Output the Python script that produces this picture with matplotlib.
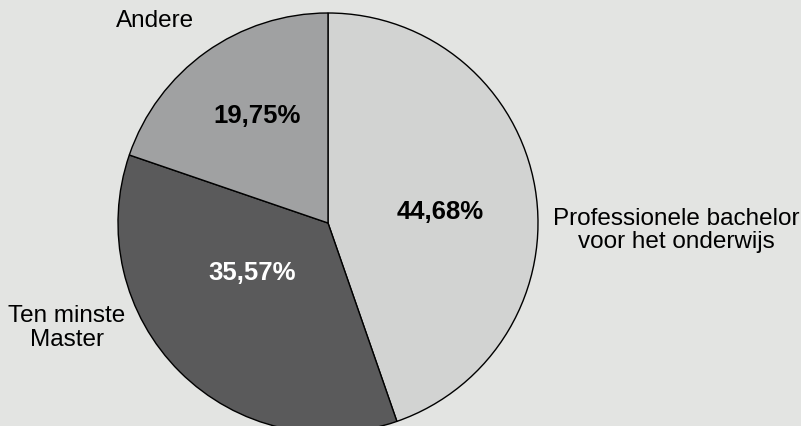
import matplotlib
matplotlib.use("Agg")
import matplotlib.pyplot as plt

categories = ["Professionele bachelor\nvoor het onderwijs", "Ten minste\nMaster", "Andere"]
values = [44.68, 35.57, 19.75]
colors = ["#d2d3d2", "#5a5a5b", "#a0a1a2"]
pct_colors = ["#000000", "#ffffff", "#000000"]

plt.rcParams['font.family'] = ['Liberation Sans', 'DejaVu Sans']

fig = plt.figure(figsize=(8.01, 4.27), dpi=100, facecolor="#e3e4e2")
ax = fig.add_axes([118/801, -7/427, 420/801, 420/427])
ax.set_facecolor("#e3e4e2")

wedges, texts, autotexts = ax.pie(
    values, labels=categories, colors=colors, startangle=90, counterclock=False,
    autopct=lambda p: f"{p:.2f}".replace('.', ',') + '%',
    wedgeprops=dict(edgecolor="black", linewidth=1.0),
    textprops=dict(fontsize=17.5),
)

label_pos = [(1.657, -0.03), (-1.243, -0.495), (-0.824, 0.965)]
for t, pos in zip(texts, label_pos):
    t.set_position(pos)
    t.set_ha("center")
    t.set_va("center")
    t.set_multialignment("center")
    t.set_linespacing(1.07)

pct_pos = [(0.533, 0.057), (-0.362, -0.233), (-0.338, 0.514)]
for t, pos, c in zip(autotexts, pct_pos, pct_colors):
    t.set_position(pos)
    t.set_color(c)
    t.set_fontweight("bold")
    t.set_fontsize(18.5)
    t.set_ha("center")
    t.set_va("center")

ax.set_xlim(-1, 1)
ax.set_ylim(-1, 1)
ax.set_aspect("equal")
ax.axis("off")

fig.savefig("out.png", dpi=100, facecolor=fig.get_facecolor())
